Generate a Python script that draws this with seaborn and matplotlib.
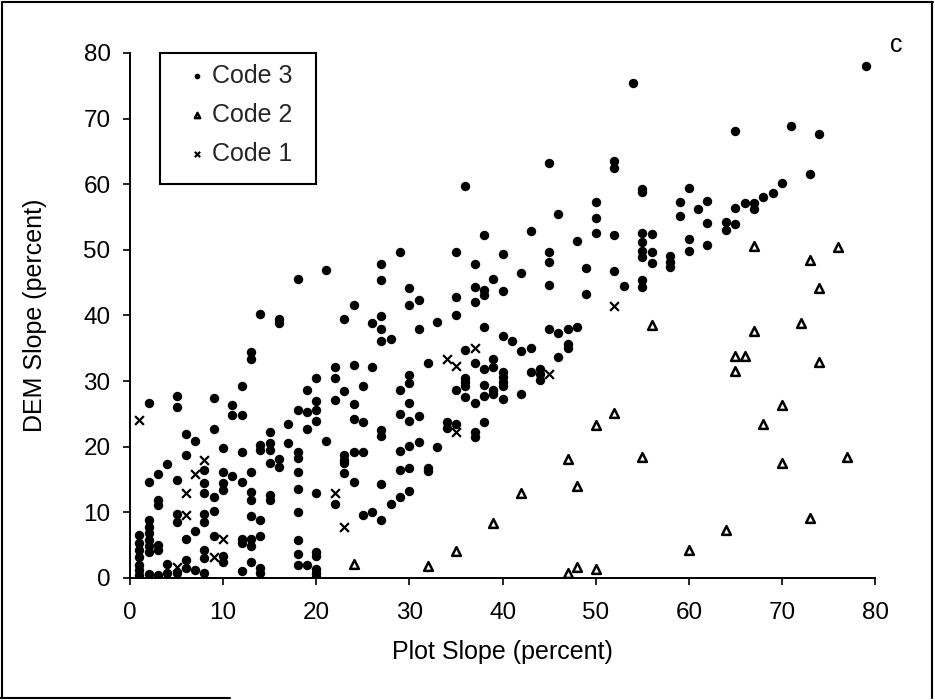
import matplotlib
matplotlib.use("Agg")
import matplotlib.pyplot as plt
from matplotlib.patches import Rectangle
from matplotlib.lines import Line2D
import seaborn as sns
import pandas as pd

# ---------------- data ----------------
code3_x = [
    1, 1, 1, 1, 1, 1, 1,
    2, 2, 2, 2, 2, 2, 2, 2, 2,
    3, 3, 3, 3, 3, 3,
    4, 4, 4,
    5, 5, 5, 5, 5, 5,
    6, 6, 6, 6, 6,
    7, 7, 7,
    8, 8, 8, 8, 8, 8, 8, 8,
    9, 9, 9, 9, 9,
    10, 10, 10, 10, 10, 10,
    11, 11, 11,
    12, 12, 12, 12, 12, 12, 12,
    13, 13, 13, 13, 13, 13, 13, 13, 13,
    14, 14, 14, 14, 14, 14, 14,
    15, 15, 15, 15, 15, 15,
    16, 16, 16, 16,
    17, 17,
    18, 18, 18, 18, 18, 18, 18, 18, 18, 18,
    19, 19, 19, 19,
    20, 20, 20, 20, 20, 20, 20, 20, 20, 20,
    21, 21,
    22, 22, 22, 22,
    23, 23, 23, 23, 23, 23,
    24, 24, 24, 24, 24, 24,
    25, 25, 25, 25,
    26, 26, 26,
    27, 27, 27, 27, 27, 27, 27, 27, 27,
    28, 28,
    29, 29, 29, 29, 29, 29,
    30, 30, 30, 30, 30, 30, 30, 30, 30,
    31, 31, 31, 31,
    32, 32, 32,
    33, 33,
    34, 34,
    35, 35, 35, 35, 35,
    36, 36, 36, 36, 36, 36,
    37, 37, 37, 37, 37, 37, 37,
    38, 38, 38, 38, 38, 38, 38, 38,
    39, 39, 39, 39, 39,
    40, 40, 40, 40, 40, 40, 40, 40,
    41,
    42, 42, 42,
    43, 43, 43,
    44, 44, 44,
    45, 45, 45, 45, 45,
    46, 46, 46,
    47, 47, 47,
    48, 48,
    49, 49,
    50, 50, 50,
    52, 52, 52, 52,
    53,
    54,
    55, 55, 55, 55, 55, 55, 55, 55,
    56, 56, 56,
    58, 58, 58,
    59, 59,
    60, 60, 60,
    61,
    62, 62, 62,
    64, 64,
    65, 65, 65,
    66,
    67, 67,
    68,
    69,
    70,
    71,
    73,
    74,
    79,
]
code3_y = [
    6.5, 5.3, 4.3, 3.2, 2.0, 1.2, 0.5,
    26.7, 14.6, 8.8, 7.8, 6.8, 5.8, 4.8, 4.0, 0.6,
    15.8, 11.9, 11.1, 5.0, 4.3, 0.5,
    17.4, 2.2, 0.7,
    27.7, 26.1, 15.0, 9.8, 8.6, 0.7,
    21.9, 18.8, 6.0, 2.7, 1.5,
    20.9, 7.2, 1.2,
    16.4, 14.5, 12.9, 9.8, 8.6, 4.3, 3.0, 0.7,
    27.4, 22.7, 12.4, 10.2, 6.4,
    19.8, 16.2, 14.5, 13.4, 3.3, 2.5,
    26.4, 24.8, 15.6,
    29.2, 24.8, 19.2, 14.7, 6.0, 5.3, 1.0,
    34.4, 33.3, 16.2, 13.1, 11.9, 9.4, 6.0, 4.8, 2.5,
    40.2, 20.3, 19.5, 8.9, 6.4, 1.5, 0.7,
    22.3, 20.5, 19.5, 17.5, 12.6, 11.9,
    39.4, 38.9, 18.2, 16.9,
    23.4, 20.5,
    45.5, 25.6, 19.2, 18.3, 16.2, 13.5, 10.1, 5.8, 3.7, 2.0,
    28.6, 25.3, 22.7, 2.0,
    30.4, 27.0, 25.6, 23.9, 12.9, 4.0, 3.3, 1.3, 0.7, 0.2,
    47.0, 20.9,
    32.1, 30.4, 27.1, 11.3,
    39.4, 28.5, 18.7, 18.0, 17.5, 16.0,
    41.6, 32.4, 26.5, 24.2, 19.2, 14.7,
    29.2, 23.7, 19.2, 9.6,
    38.9, 32.1, 10.1,
    47.9, 45.4, 39.9, 38.0, 36.1, 22.5, 21.7, 14.3, 8.9,
    36.4, 11.2,
    49.7, 28.7, 25.0, 19.3, 16.5, 12.4,
    44.2, 41.6, 31.0, 29.7, 26.6, 23.9, 20.1, 16.8, 13.2,
    42.3, 37.9, 24.7, 20.7,
    32.8, 16.8, 16.3,
    39.0, 19.9,
    23.7, 22.9,
    49.7, 42.8, 40.0, 28.7, 23.4,
    59.7, 34.8, 30.5, 29.9, 29.2, 27.6,
    47.9, 44.4, 42.0, 32.8, 26.7, 22.3, 21.5,
    52.2, 43.9, 43.1, 38.3, 31.8, 29.4, 27.7, 23.7,
    45.6, 33.3, 32.2, 28.7, 28.1,
    49.4, 43.7, 36.8, 31.4, 30.6, 29.9, 29.2, 27.2,
    36.1,
    46.4, 34.6, 28.0,
    52.9, 35.1, 31.4,
    31.8, 31.1, 30.1,
    63.2, 49.6, 48.1, 44.6, 37.9,
    55.4, 37.4, 33.6,
    38.0, 35.7, 35.1,
    51.3, 38.2,
    47.3, 43.2,
    57.3, 54.9, 52.5,
    63.5, 62.4, 52.2, 46.8,
    44.5,
    75.4,
    59.2, 58.8, 52.5, 51.2, 49.9, 48.9, 45.4, 44.3,
    52.4, 49.7, 48.0,
    49.1, 48.1, 47.4,
    57.3, 55.1,
    59.4, 51.6, 49.8,
    56.3,
    57.5, 54.1, 50.8,
    54.3, 53.0,
    68.1, 56.4, 54.0,
    57.1,
    57.2, 56.3,
    58.0,
    58.7,
    60.2,
    68.8,
    61.6,
    67.6,
    78.0,
]

code2_x = [24, 32, 35, 39, 42, 47, 48, 47, 48, 50, 50, 52, 55, 56, 60, 64,
           65, 66, 65, 67, 67, 68, 70, 70, 72, 73, 73, 74, 74, 76, 77]
code2_y = [2.2, 1.9, 4.1, 8.4, 13.0, 18.2, 14.0, 0.7, 1.7, 1.3, 23.3, 25.1,
           18.4, 38.6, 4.2, 7.3, 33.8, 33.9, 31.5, 37.6, 50.6, 23.5, 26.3,
           17.5, 38.9, 48.4, 9.2, 44.2, 32.9, 50.4, 18.4]

code1_x = [1, 8, 7, 6, 6, 10, 9, 5, 22, 23, 34, 35, 37, 35, 45, 52]
code1_y = [24.0, 18.0, 15.8, 12.9, 9.6, 6.0, 3.2, 1.7, 13.0, 7.8, 33.4,
           32.3, 35.1, 22.3, 31.1, 41.4]

x_ticks = [0, 10, 20, 30, 40, 50, 60, 70, 80]
y_ticks = [0, 10, 20, 30, 40, 50, 60, 70, 80]
labels = ["Code 3", "Code 2", "Code 1"]

# ---------------- style ----------------
sns.set_style("ticks")
plt.rcParams["font.family"] = ["Liberation Sans", "DejaVu Sans"]

df3 = pd.DataFrame({"x": code3_x, "y": code3_y})
df2 = pd.DataFrame({"x": code2_x, "y": code2_y})
df1 = pd.DataFrame({"x": code1_x, "y": code1_y})

fig = plt.figure(figsize=(9.35, 7.0), dpi=100)
ax = fig.add_axes([0.139, 0.1743, 0.797, 0.75])

sns.scatterplot(data=df3, x="x", y="y", ax=ax, marker="o", s=46,
                color="black", edgecolor="black", linewidth=0,
                label=labels[0], legend=False, zorder=3)
sns.scatterplot(data=df2, x="x", y="y", ax=ax, marker="^", s=40,
                facecolor="white", edgecolor="black", linewidth=1.8,
                label=labels[1], legend=False, zorder=4)
sns.scatterplot(data=df1, x="x", y="y", ax=ax, marker="x", s=40,
                color="black", linewidth=1.6,
                label=labels[2], legend=False, zorder=4)

ax.set_xlim(0, 80)
ax.set_ylim(0, 80)
ax.set_xticks(x_ticks)
ax.set_yticks(y_ticks)
ax.set_xticklabels([str(v) for v in x_ticks])
ax.set_yticklabels([str(v) for v in y_ticks])

for side in ["top", "right"]:
    ax.spines[side].set_visible(False)
for side in ["left", "bottom"]:
    ax.spines[side].set_color("black")
    ax.spines[side].set_linewidth(1.4)

ax.tick_params(axis="x", direction="out", length=5, width=1.2,
               color="black", labelsize=17.5, pad=12.5, labelcolor="black")
ax.tick_params(axis="y", direction="out", length=5, width=1.2,
               color="black", labelsize=17.5, pad=9, labelcolor="black")

ax.set_xlabel("Plot Slope (percent)", fontsize=18, labelpad=11, color="black")
ax.set_ylabel("DEM Slope (percent)", fontsize=18, labelpad=26, color="black")
ax.grid(False)

# legend
leg = ax.legend(loc="upper left", bbox_to_anchor=(0.0765, 0.979),
                frameon=False, fontsize=18, handlelength=0.8,
                handletextpad=0.2, labelspacing=0.6, borderpad=0,
                borderaxespad=0, markerscale=0.6)
ax.add_patch(Rectangle((0.0403, 0.7505), 0.2094, 0.2495,
                       transform=ax.transAxes, fill=False,
                       edgecolor="black", linewidth=1.5, clip_on=False,
                       zorder=5))

# panel letter
fig.text(0.959, 0.936, "c", fontsize=18, ha="center", va="center",
         color="black")

# figure border
border_kw = dict(color="black", linewidth=1.5, transform=fig.transFigure)
fig.add_artist(Line2D([0.002, 0.998], [0.997, 0.997], **border_kw))
fig.add_artist(Line2D([0.002, 0.002], [0.003, 0.997], **border_kw))
fig.add_artist(Line2D([0.997, 0.997], [0.003, 0.997], **border_kw))
fig.add_artist(Line2D([0.0, 0.246], [0.003, 0.003], **border_kw))

fig.savefig("out.png", dpi=100, facecolor="white")
